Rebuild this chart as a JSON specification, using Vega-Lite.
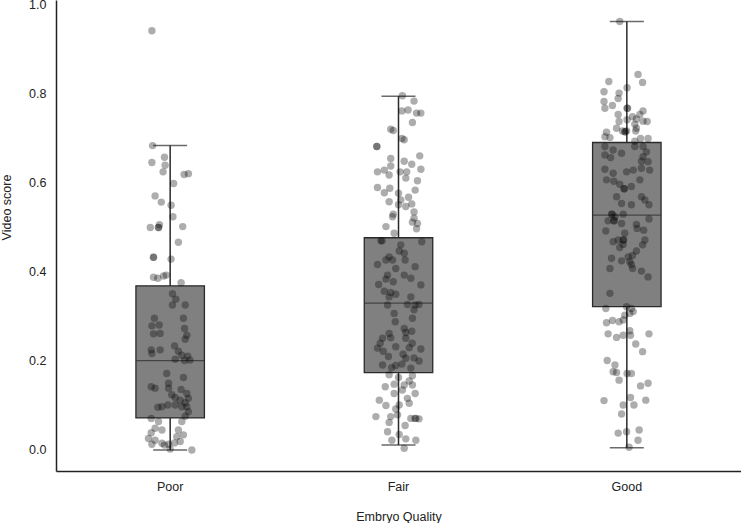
{
  "$schema": "https://vega.github.io/schema/vega-lite/v6.json",
  "width": 685,
  "height": 471,
  "autosize": {"type": "none"},
  "padding": {"left": 56, "top": 0, "right": 0, "bottom": 52},
  "background": "white",
  "config": {
    "view": {"stroke": null},
    "font": "Liberation Sans",
    "axis": {
      "labelFont": "Liberation Sans",
      "titleFont": "Liberation Sans",
      "labelFontSize": 12.5,
      "titleFontSize": 12.5,
      "titleFontWeight": "normal",
      "labelColor": "#222",
      "titleColor": "#222",
      "domainColor": "#222",
      "domainWidth": 1.5,
      "ticks": false,
      "grid": false
    }
  },
  "datasets": {
    "stats": [
      {"quality": "Poor", "lower": 0.0, "q1": 0.072, "median": 0.201, "q3": 0.369, "upper": 0.684},
      {"quality": "Fair", "lower": 0.011, "q1": 0.174, "median": 0.33, "q3": 0.477, "upper": 0.795},
      {"quality": "Good", "lower": 0.005, "q1": 0.322, "median": 0.528, "q3": 0.691, "upper": 0.963}
    ],
    "points": [
      {"quality": "Poor", "score": 0.942, "jitter": -0.08},
      {"quality": "Poor", "score": 0.684, "jitter": -0.077},
      {"quality": "Poor", "score": 0.658, "jitter": -0.025},
      {"quality": "Poor", "score": 0.646, "jitter": -0.08},
      {"quality": "Poor", "score": 0.64, "jitter": -0.022},
      {"quality": "Poor", "score": 0.625, "jitter": -0.031},
      {"quality": "Poor", "score": 0.619, "jitter": 0.061},
      {"quality": "Poor", "score": 0.621, "jitter": 0.08},
      {"quality": "Poor", "score": 0.599, "jitter": 0.015},
      {"quality": "Poor", "score": 0.571, "jitter": -0.066},
      {"quality": "Poor", "score": 0.557, "jitter": -0.039},
      {"quality": "Poor", "score": 0.55, "jitter": 0.004},
      {"quality": "Poor", "score": 0.524, "jitter": 0.012},
      {"quality": "Poor", "score": 0.5, "jitter": -0.087},
      {"quality": "Poor", "score": 0.5, "jitter": -0.051},
      {"quality": "Poor", "score": 0.5, "jitter": -0.051},
      {"quality": "Poor", "score": 0.506, "jitter": -0.047},
      {"quality": "Poor", "score": 0.502, "jitter": 0.055},
      {"quality": "Poor", "score": 0.467, "jitter": 0.036},
      {"quality": "Poor", "score": 0.433, "jitter": -0.073},
      {"quality": "Poor", "score": 0.433, "jitter": -0.073},
      {"quality": "Poor", "score": 0.429, "jitter": 0.004},
      {"quality": "Poor", "score": 0.388, "jitter": -0.073},
      {"quality": "Poor", "score": 0.386, "jitter": -0.054},
      {"quality": "Poor", "score": 0.391, "jitter": -0.029},
      {"quality": "Poor", "score": 0.393, "jitter": -0.017},
      {"quality": "Poor", "score": 0.376, "jitter": 0.048},
      {"quality": "Poor", "score": 0.351, "jitter": 0.01},
      {"quality": "Poor", "score": 0.339, "jitter": 0.025},
      {"quality": "Poor", "score": 0.326, "jitter": 0.01},
      {"quality": "Poor", "score": 0.326, "jitter": 0.066},
      {"quality": "Poor", "score": 0.296, "jitter": -0.069},
      {"quality": "Poor", "score": 0.296, "jitter": 0.058},
      {"quality": "Poor", "score": 0.279, "jitter": -0.08},
      {"quality": "Poor", "score": 0.281, "jitter": -0.048},
      {"quality": "Poor", "score": 0.273, "jitter": 0.063},
      {"quality": "Poor", "score": 0.261, "jitter": -0.073},
      {"quality": "Poor", "score": 0.262, "jitter": -0.044},
      {"quality": "Poor", "score": 0.258, "jitter": 0.073},
      {"quality": "Poor", "score": 0.249, "jitter": 0.066},
      {"quality": "Poor", "score": 0.225, "jitter": -0.083},
      {"quality": "Poor", "score": 0.225, "jitter": -0.044},
      {"quality": "Poor", "score": 0.217, "jitter": -0.08},
      {"quality": "Poor", "score": 0.234, "jitter": 0.019},
      {"quality": "Poor", "score": 0.222, "jitter": 0.036},
      {"quality": "Poor", "score": 0.213, "jitter": 0.051},
      {"quality": "Poor", "score": 0.211, "jitter": 0.077},
      {"quality": "Poor", "score": 0.204, "jitter": 0.022},
      {"quality": "Poor", "score": 0.202, "jitter": 0.087},
      {"quality": "Poor", "score": 0.201, "jitter": 0.063},
      {"quality": "Poor", "score": 0.172, "jitter": -0.015},
      {"quality": "Poor", "score": 0.163, "jitter": 0.058},
      {"quality": "Poor", "score": 0.15, "jitter": -0.007},
      {"quality": "Poor", "score": 0.142, "jitter": -0.083},
      {"quality": "Poor", "score": 0.139, "jitter": -0.066},
      {"quality": "Poor", "score": 0.139, "jitter": -0.007},
      {"quality": "Poor", "score": 0.136, "jitter": 0.048},
      {"quality": "Poor", "score": 0.124, "jitter": 0.007},
      {"quality": "Poor", "score": 0.127, "jitter": 0.073},
      {"quality": "Poor", "score": 0.116, "jitter": 0.08},
      {"quality": "Poor", "score": 0.118, "jitter": 0.022},
      {"quality": "Poor", "score": 0.112, "jitter": 0.044},
      {"quality": "Poor", "score": 0.106, "jitter": 0.066},
      {"quality": "Poor", "score": 0.096, "jitter": -0.054},
      {"quality": "Poor", "score": 0.097, "jitter": -0.036},
      {"quality": "Poor", "score": 0.101, "jitter": -0.01},
      {"quality": "Poor", "score": 0.101, "jitter": 0.022},
      {"quality": "Poor", "score": 0.097, "jitter": 0.051},
      {"quality": "Poor", "score": 0.097, "jitter": 0.073},
      {"quality": "Poor", "score": 0.086, "jitter": 0.08},
      {"quality": "Poor", "score": 0.076, "jitter": 0.066},
      {"quality": "Poor", "score": 0.071, "jitter": -0.083},
      {"quality": "Poor", "score": 0.064, "jitter": -0.051},
      {"quality": "Poor", "score": 0.064, "jitter": 0.051},
      {"quality": "Poor", "score": 0.049, "jitter": -0.066},
      {"quality": "Poor", "score": 0.045, "jitter": 0.036},
      {"quality": "Poor", "score": 0.039, "jitter": -0.083},
      {"quality": "Poor", "score": 0.045, "jitter": -0.036},
      {"quality": "Poor", "score": 0.034, "jitter": 0.058},
      {"quality": "Poor", "score": 0.03, "jitter": 0.029},
      {"quality": "Poor", "score": 0.026, "jitter": -0.095},
      {"quality": "Poor", "score": 0.022, "jitter": -0.066},
      {"quality": "Poor", "score": 0.015, "jitter": -0.036},
      {"quality": "Poor", "score": 0.013, "jitter": -0.007},
      {"quality": "Poor", "score": 0.016, "jitter": 0.019},
      {"quality": "Poor", "score": 0.019, "jitter": 0.044},
      {"quality": "Poor", "score": 0.013, "jitter": -0.08},
      {"quality": "Poor", "score": 0.002, "jitter": 0.0},
      {"quality": "Poor", "score": 0.0, "jitter": 0.095},
      {"quality": "Poor", "score": 0.011, "jitter": -0.025},

      {"quality": "Fair", "score": 0.796, "jitter": 0.017},
      {"quality": "Fair", "score": 0.784, "jitter": 0.068},
      {"quality": "Fair", "score": 0.762, "jitter": 0.015},
      {"quality": "Fair", "score": 0.764, "jitter": 0.042},
      {"quality": "Fair", "score": 0.757, "jitter": 0.079},
      {"quality": "Fair", "score": 0.757, "jitter": 0.098},
      {"quality": "Fair", "score": 0.736, "jitter": 0.061},
      {"quality": "Fair", "score": 0.721, "jitter": -0.034},
      {"quality": "Fair", "score": 0.718, "jitter": -0.023},
      {"quality": "Fair", "score": 0.7, "jitter": 0.015},
      {"quality": "Fair", "score": 0.697, "jitter": 0.025},
      {"quality": "Fair", "score": 0.682, "jitter": -0.095},
      {"quality": "Fair", "score": 0.682, "jitter": -0.095},
      {"quality": "Fair", "score": 0.655, "jitter": -0.034},
      {"quality": "Fair", "score": 0.661, "jitter": 0.093},
      {"quality": "Fair", "score": 0.649, "jitter": 0.025},
      {"quality": "Fair", "score": 0.642, "jitter": 0.058},
      {"quality": "Fair", "score": 0.638, "jitter": -0.034},
      {"quality": "Fair", "score": 0.631, "jitter": 0.098},
      {"quality": "Fair", "score": 0.625, "jitter": -0.092},
      {"quality": "Fair", "score": 0.629, "jitter": -0.062},
      {"quality": "Fair", "score": 0.618, "jitter": -0.041},
      {"quality": "Fair", "score": 0.625, "jitter": 0.007},
      {"quality": "Fair", "score": 0.625, "jitter": 0.036},
      {"quality": "Fair", "score": 0.611, "jitter": 0.032},
      {"quality": "Fair", "score": 0.605, "jitter": 0.083},
      {"quality": "Fair", "score": 0.59, "jitter": -0.092},
      {"quality": "Fair", "score": 0.588, "jitter": -0.038},
      {"quality": "Fair", "score": 0.578, "jitter": -0.062},
      {"quality": "Fair", "score": 0.584, "jitter": 0.073},
      {"quality": "Fair", "score": 0.577, "jitter": 0.0},
      {"quality": "Fair", "score": 0.558, "jitter": -0.041},
      {"quality": "Fair", "score": 0.562, "jitter": 0.01},
      {"quality": "Fair", "score": 0.568, "jitter": 0.044},
      {"quality": "Fair", "score": 0.553, "jitter": 0.058},
      {"quality": "Fair", "score": 0.551, "jitter": 0.0},
      {"quality": "Fair", "score": 0.547, "jitter": 0.032},
      {"quality": "Fair", "score": 0.53, "jitter": -0.023},
      {"quality": "Fair", "score": 0.535, "jitter": 0.068},
      {"quality": "Fair", "score": 0.524, "jitter": -0.026},
      {"quality": "Fair", "score": 0.521, "jitter": 0.068},
      {"quality": "Fair", "score": 0.512, "jitter": 0.061},
      {"quality": "Fair", "score": 0.509, "jitter": 0.083},
      {"quality": "Fair", "score": 0.502, "jitter": -0.055},
      {"quality": "Fair", "score": 0.487, "jitter": -0.019},
      {"quality": "Fair", "score": 0.497, "jitter": 0.079},
      {"quality": "Fair", "score": 0.47, "jitter": -0.077},
      {"quality": "Fair", "score": 0.47, "jitter": -0.072},
      {"quality": "Fair", "score": 0.468, "jitter": 0.102},
      {"quality": "Fair", "score": 0.461, "jitter": 0.01},
      {"quality": "Fair", "score": 0.447, "jitter": 0.003},
      {"quality": "Fair", "score": 0.442, "jitter": 0.025},
      {"quality": "Fair", "score": 0.434, "jitter": -0.041},
      {"quality": "Fair", "score": 0.427, "jitter": -0.026},
      {"quality": "Fair", "score": 0.427, "jitter": -0.055},
      {"quality": "Fair", "score": 0.417, "jitter": -0.092},
      {"quality": "Fair", "score": 0.427, "jitter": 0.029},
      {"quality": "Fair", "score": 0.412, "jitter": 0.073},
      {"quality": "Fair", "score": 0.408, "jitter": -0.012},
      {"quality": "Fair", "score": 0.393, "jitter": -0.048},
      {"quality": "Fair", "score": 0.393, "jitter": 0.025},
      {"quality": "Fair", "score": 0.384, "jitter": -0.055},
      {"quality": "Fair", "score": 0.386, "jitter": 0.054},
      {"quality": "Fair", "score": 0.372, "jitter": -0.087},
      {"quality": "Fair", "score": 0.378, "jitter": -0.023},
      {"quality": "Fair", "score": 0.371, "jitter": 0.098},
      {"quality": "Fair", "score": 0.357, "jitter": -0.062},
      {"quality": "Fair", "score": 0.354, "jitter": -0.034},
      {"quality": "Fair", "score": 0.35, "jitter": -0.012},
      {"quality": "Fair", "score": 0.344, "jitter": -0.041},
      {"quality": "Fair", "score": 0.344, "jitter": 0.054},
      {"quality": "Fair", "score": 0.326, "jitter": -0.048},
      {"quality": "Fair", "score": 0.327, "jitter": 0.039},
      {"quality": "Fair", "score": 0.326, "jitter": 0.073},
      {"quality": "Fair", "score": 0.327, "jitter": 0.09},
      {"quality": "Fair", "score": 0.315, "jitter": 0.068},
      {"quality": "Fair", "score": 0.307, "jitter": -0.019},
      {"quality": "Fair", "score": 0.296, "jitter": 0.061},
      {"quality": "Fair", "score": 0.288, "jitter": -0.014},
      {"quality": "Fair", "score": 0.273, "jitter": 0.025},
      {"quality": "Fair", "score": 0.267, "jitter": 0.058},
      {"quality": "Fair", "score": 0.262, "jitter": -0.041},
      {"quality": "Fair", "score": 0.264, "jitter": 0.032},
      {"quality": "Fair", "score": 0.251, "jitter": -0.07},
      {"quality": "Fair", "score": 0.252, "jitter": -0.034},
      {"quality": "Fair", "score": 0.251, "jitter": 0.032},
      {"quality": "Fair", "score": 0.24, "jitter": -0.08},
      {"quality": "Fair", "score": 0.24, "jitter": 0.06},
      {"quality": "Fair", "score": 0.229, "jitter": -0.092},
      {"quality": "Fair", "score": 0.222, "jitter": -0.067},
      {"quality": "Fair", "score": 0.232, "jitter": -0.012},
      {"quality": "Fair", "score": 0.23, "jitter": 0.047},
      {"quality": "Fair", "score": 0.227, "jitter": 0.098},
      {"quality": "Fair", "score": 0.215, "jitter": 0.02},
      {"quality": "Fair", "score": 0.21, "jitter": -0.044},
      {"quality": "Fair", "score": 0.206, "jitter": 0.032},
      {"quality": "Fair", "score": 0.207, "jitter": 0.068},
      {"quality": "Fair", "score": 0.2, "jitter": 0.09},
      {"quality": "Fair", "score": 0.191, "jitter": -0.07},
      {"quality": "Fair", "score": 0.19, "jitter": -0.012},
      {"quality": "Fair", "score": 0.193, "jitter": 0.015},
      {"quality": "Fair", "score": 0.185, "jitter": -0.03},
      {"quality": "Fair", "score": 0.184, "jitter": 0.054},
      {"quality": "Fair", "score": 0.169, "jitter": -0.041},
      {"quality": "Fair", "score": 0.167, "jitter": 0.061},
      {"quality": "Fair", "score": 0.163, "jitter": 0.0},
      {"quality": "Fair", "score": 0.155, "jitter": 0.047},
      {"quality": "Fair", "score": 0.142, "jitter": -0.058},
      {"quality": "Fair", "score": 0.148, "jitter": -0.019},
      {"quality": "Fair", "score": 0.146, "jitter": 0.025},
      {"quality": "Fair", "score": 0.146, "jitter": 0.061},
      {"quality": "Fair", "score": 0.135, "jitter": 0.017},
      {"quality": "Fair", "score": 0.127, "jitter": 0.073},
      {"quality": "Fair", "score": 0.127, "jitter": -0.019},
      {"quality": "Fair", "score": 0.112, "jitter": -0.084},
      {"quality": "Fair", "score": 0.116, "jitter": 0.039},
      {"quality": "Fair", "score": 0.1, "jitter": -0.055},
      {"quality": "Fair", "score": 0.101, "jitter": 0.003},
      {"quality": "Fair", "score": 0.105, "jitter": 0.047},
      {"quality": "Fair", "score": 0.092, "jitter": -0.012},
      {"quality": "Fair", "score": 0.075, "jitter": -0.099},
      {"quality": "Fair", "score": 0.075, "jitter": -0.034},
      {"quality": "Fair", "score": 0.079, "jitter": -0.004},
      {"quality": "Fair", "score": 0.071, "jitter": 0.054},
      {"quality": "Fair", "score": 0.071, "jitter": 0.076},
      {"quality": "Fair", "score": 0.071, "jitter": 0.072},
      {"quality": "Fair", "score": 0.07, "jitter": 0.09},
      {"quality": "Fair", "score": 0.062, "jitter": -0.041},
      {"quality": "Fair", "score": 0.055, "jitter": 0.029},
      {"quality": "Fair", "score": 0.041, "jitter": -0.048},
      {"quality": "Fair", "score": 0.035, "jitter": 0.003},
      {"quality": "Fair", "score": 0.025, "jitter": 0.032},
      {"quality": "Fair", "score": 0.022, "jitter": 0.076},
      {"quality": "Fair", "score": 0.022, "jitter": -0.029},
      {"quality": "Fair", "score": 0.004, "jitter": 0.025},

      {"quality": "Good", "score": 0.963, "jitter": -0.031},
      {"quality": "Good", "score": 0.844, "jitter": 0.049},
      {"quality": "Good", "score": 0.826, "jitter": 0.069},
      {"quality": "Good", "score": 0.828, "jitter": -0.079},
      {"quality": "Good", "score": 0.805, "jitter": -0.1},
      {"quality": "Good", "score": 0.814, "jitter": 0.001},
      {"quality": "Good", "score": 0.802, "jitter": -0.034},
      {"quality": "Good", "score": 0.79, "jitter": -0.038},
      {"quality": "Good", "score": 0.783, "jitter": -0.1},
      {"quality": "Good", "score": 0.774, "jitter": -0.063},
      {"quality": "Good", "score": 0.768, "jitter": -0.096},
      {"quality": "Good", "score": 0.768, "jitter": 0.001},
      {"quality": "Good", "score": 0.768, "jitter": 0.003},
      {"quality": "Good", "score": 0.762, "jitter": 0.071},
      {"quality": "Good", "score": 0.754, "jitter": 0.057},
      {"quality": "Good", "score": 0.754, "jitter": -0.038},
      {"quality": "Good", "score": 0.749, "jitter": 0.025},
      {"quality": "Good", "score": 0.742, "jitter": 0.001},
      {"quality": "Good", "score": 0.744, "jitter": 0.042},
      {"quality": "Good", "score": 0.738, "jitter": 0.089},
      {"quality": "Good", "score": 0.738, "jitter": -0.034},
      {"quality": "Good", "score": 0.739, "jitter": 0.071},
      {"quality": "Good", "score": 0.732, "jitter": 0.035},
      {"quality": "Good", "score": 0.723, "jitter": -0.045},
      {"quality": "Good", "score": 0.717, "jitter": -0.019},
      {"quality": "Good", "score": 0.717, "jitter": -0.001},
      {"quality": "Good", "score": 0.723, "jitter": 0.042},
      {"quality": "Good", "score": 0.717, "jitter": 0.039},
      {"quality": "Good", "score": 0.714, "jitter": -0.089},
      {"quality": "Good", "score": 0.715, "jitter": -0.009},
      {"quality": "Good", "score": 0.715, "jitter": -0.007},
      {"quality": "Good", "score": 0.702, "jitter": -0.074},
      {"quality": "Good", "score": 0.7, "jitter": 0.06},
      {"quality": "Good", "score": 0.7, "jitter": 0.093},
      {"quality": "Good", "score": 0.694, "jitter": 0.035},
      {"quality": "Good", "score": 0.704, "jitter": -0.096},
      {"quality": "Good", "score": 0.682, "jitter": -0.096},
      {"quality": "Good", "score": 0.674, "jitter": -0.06},
      {"quality": "Good", "score": 0.667, "jitter": -0.023},
      {"quality": "Good", "score": 0.682, "jitter": 0.035},
      {"quality": "Good", "score": 0.682, "jitter": 0.071},
      {"quality": "Good", "score": 0.67, "jitter": 0.086},
      {"quality": "Good", "score": 0.663, "jitter": -0.096},
      {"quality": "Good", "score": 0.657, "jitter": -0.071},
      {"quality": "Good", "score": 0.659, "jitter": 0.071},
      {"quality": "Good", "score": 0.649, "jitter": 0.064},
      {"quality": "Good", "score": 0.648, "jitter": 0.093},
      {"quality": "Good", "score": 0.631, "jitter": -0.096},
      {"quality": "Good", "score": 0.622, "jitter": -0.06},
      {"quality": "Good", "score": 0.625, "jitter": -0.001},
      {"quality": "Good", "score": 0.629, "jitter": 0.028},
      {"quality": "Good", "score": 0.633, "jitter": 0.064},
      {"quality": "Good", "score": 0.629, "jitter": 0.1},
      {"quality": "Good", "score": 0.607, "jitter": -0.089},
      {"quality": "Good", "score": 0.604, "jitter": -0.057},
      {"quality": "Good", "score": 0.597, "jitter": -0.031},
      {"quality": "Good", "score": 0.607, "jitter": 0.057},
      {"quality": "Good", "score": 0.587, "jitter": -0.013},
      {"quality": "Good", "score": 0.587, "jitter": -0.01},
      {"quality": "Good", "score": 0.592, "jitter": 0.02},
      {"quality": "Good", "score": 0.569, "jitter": -0.045},
      {"quality": "Good", "score": 0.569, "jitter": 0.064},
      {"quality": "Good", "score": 0.562, "jitter": 0.079},
      {"quality": "Good", "score": 0.554, "jitter": -0.023},
      {"quality": "Good", "score": 0.551, "jitter": 0.02},
      {"quality": "Good", "score": 0.551, "jitter": 0.097},
      {"quality": "Good", "score": 0.53, "jitter": -0.067},
      {"quality": "Good", "score": 0.53, "jitter": -0.064},
      {"quality": "Good", "score": 0.524, "jitter": -0.052},
      {"quality": "Good", "score": 0.53, "jitter": -0.016},
      {"quality": "Good", "score": 0.515, "jitter": -0.082},
      {"quality": "Good", "score": 0.515, "jitter": -0.057},
      {"quality": "Good", "score": 0.515, "jitter": -0.055},
      {"quality": "Good", "score": 0.509, "jitter": -0.023},
      {"quality": "Good", "score": 0.507, "jitter": 0.042},
      {"quality": "Good", "score": 0.519, "jitter": 0.097},
      {"quality": "Good", "score": 0.498, "jitter": 0.045},
      {"quality": "Good", "score": 0.492, "jitter": -0.092},
      {"quality": "Good", "score": 0.494, "jitter": 0.074},
      {"quality": "Good", "score": 0.487, "jitter": -0.009},
      {"quality": "Good", "score": 0.472, "jitter": -0.038},
      {"quality": "Good", "score": 0.472, "jitter": -0.016},
      {"quality": "Good", "score": 0.472, "jitter": -0.014},
      {"quality": "Good", "score": 0.468, "jitter": -0.06},
      {"quality": "Good", "score": 0.472, "jitter": 0.079},
      {"quality": "Good", "score": 0.461, "jitter": 0.069},
      {"quality": "Good", "score": 0.462, "jitter": -0.016},
      {"quality": "Good", "score": 0.455, "jitter": -0.031},
      {"quality": "Good", "score": 0.447, "jitter": 0.042},
      {"quality": "Good", "score": 0.437, "jitter": 0.025},
      {"quality": "Good", "score": 0.434, "jitter": 0.006},
      {"quality": "Good", "score": 0.431, "jitter": -0.067},
      {"quality": "Good", "score": 0.425, "jitter": -0.023},
      {"quality": "Good", "score": 0.423, "jitter": 0.013},
      {"quality": "Good", "score": 0.417, "jitter": 0.02},
      {"quality": "Good", "score": 0.408, "jitter": -0.074},
      {"quality": "Good", "score": 0.408, "jitter": 0.025},
      {"quality": "Good", "score": 0.402, "jitter": 0.064},
      {"quality": "Good", "score": 0.389, "jitter": 0.093},
      {"quality": "Good", "score": 0.352, "jitter": -0.074},
      {"quality": "Good", "score": 0.318, "jitter": -0.092},
      {"quality": "Good", "score": 0.322, "jitter": -0.001},
      {"quality": "Good", "score": 0.318, "jitter": 0.02},
      {"quality": "Good", "score": 0.286, "jitter": -0.089},
      {"quality": "Good", "score": 0.291, "jitter": -0.063},
      {"quality": "Good", "score": 0.288, "jitter": -0.034},
      {"quality": "Good", "score": 0.292, "jitter": -0.016},
      {"quality": "Good", "score": 0.307, "jitter": 0.013},
      {"quality": "Good", "score": 0.311, "jitter": 0.028},
      {"quality": "Good", "score": 0.303, "jitter": -0.009},
      {"quality": "Good", "score": 0.261, "jitter": -0.082},
      {"quality": "Good", "score": 0.253, "jitter": -0.045},
      {"quality": "Good", "score": 0.258, "jitter": -0.016},
      {"quality": "Good", "score": 0.268, "jitter": 0.013},
      {"quality": "Good", "score": 0.258, "jitter": 0.016},
      {"quality": "Good", "score": 0.261, "jitter": 0.097},
      {"quality": "Good", "score": 0.238, "jitter": 0.039},
      {"quality": "Good", "score": 0.221, "jitter": 0.069},
      {"quality": "Good", "score": 0.201, "jitter": -0.086},
      {"quality": "Good", "score": 0.191, "jitter": -0.052},
      {"quality": "Good", "score": 0.176, "jitter": -0.06},
      {"quality": "Good", "score": 0.174, "jitter": -0.045},
      {"quality": "Good", "score": 0.172, "jitter": 0.001},
      {"quality": "Good", "score": 0.172, "jitter": 0.02},
      {"quality": "Good", "score": 0.157, "jitter": -0.034},
      {"quality": "Good", "score": 0.144, "jitter": 0.06},
      {"quality": "Good", "score": 0.15, "jitter": 0.093},
      {"quality": "Good", "score": 0.111, "jitter": -0.1},
      {"quality": "Good", "score": 0.118, "jitter": 0.016},
      {"quality": "Good", "score": 0.112, "jitter": 0.083},
      {"quality": "Good", "score": 0.101, "jitter": -0.016},
      {"quality": "Good", "score": 0.101, "jitter": 0.031},
      {"quality": "Good", "score": 0.081, "jitter": -0.023},
      {"quality": "Good", "score": 0.038, "jitter": -0.038},
      {"quality": "Good", "score": 0.041, "jitter": -0.001},
      {"quality": "Good", "score": 0.045, "jitter": 0.054},
      {"quality": "Good", "score": 0.022, "jitter": 0.049},
      {"quality": "Good", "score": 0.006, "jitter": 0.01}
    ]
  },
  "encoding": {
    "x": {
      "field": "quality",
      "type": "nominal",
      "sort": ["Poor", "Fair", "Good"],
      "scale": {"paddingInner": 0, "paddingOuter": 0},
      "title": "Embryo Quality",
      "axis": {"labelAngle": 0, "labelPadding": 9, "titleY": 45, "titleBaseline": "middle"}
    }
  },
  "layer": [
    {
      "data": {"name": "stats"},
      "mark": {"type": "rule", "color": "#2b2b2b", "strokeWidth": 1.5},
      "encoding": {
        "y": {
          "field": "lower",
          "type": "quantitative",
          "scale": {"domain": [-0.0472, 1.0112], "nice": false, "zero": false},
          "title": "Video score",
          "axis": {"values": [0, 0.2, 0.4, 0.6, 0.8, 1.0], "format": ".1f", "labelPadding": 10, "titleX": -50, "titleY": 207, "titleBaseline": "middle", "titleAlign": "center"}
        },
        "y2": {"field": "upper"}
      }
    },
    {
      "data": {"name": "stats"},
      "mark": {"type": "tick", "color": "#2b2b2b", "thickness": 1.5, "size": 34},
      "encoding": {"y": {"field": "lower", "type": "quantitative"}}
    },
    {
      "data": {"name": "stats"},
      "mark": {"type": "tick", "color": "#2b2b2b", "thickness": 1.5, "size": 34},
      "encoding": {"y": {"field": "upper", "type": "quantitative"}}
    },
    {
      "data": {"name": "stats"},
      "mark": {"type": "bar", "width": 68.5, "fill": "#808080", "stroke": "#2b2b2b", "strokeWidth": 1.3},
      "encoding": {
        "y": {"field": "q1", "type": "quantitative"},
        "y2": {"field": "q3"}
      }
    },
    {
      "data": {"name": "stats"},
      "mark": {"type": "tick", "color": "#2b2b2b", "thickness": 1.3, "size": 68},
      "encoding": {"y": {"field": "median", "type": "quantitative"}}
    },
    {
      "data": {"name": "points"},
      "mark": {"type": "circle", "color": "#000000", "opacity": 0.32, "size": 55},
      "encoding": {
        "y": {"field": "score", "type": "quantitative"},
        "xOffset": {"field": "jitter", "type": "quantitative", "scale": {"domain": [-0.5, 0.5]}}
      }
    }
  ]
}
